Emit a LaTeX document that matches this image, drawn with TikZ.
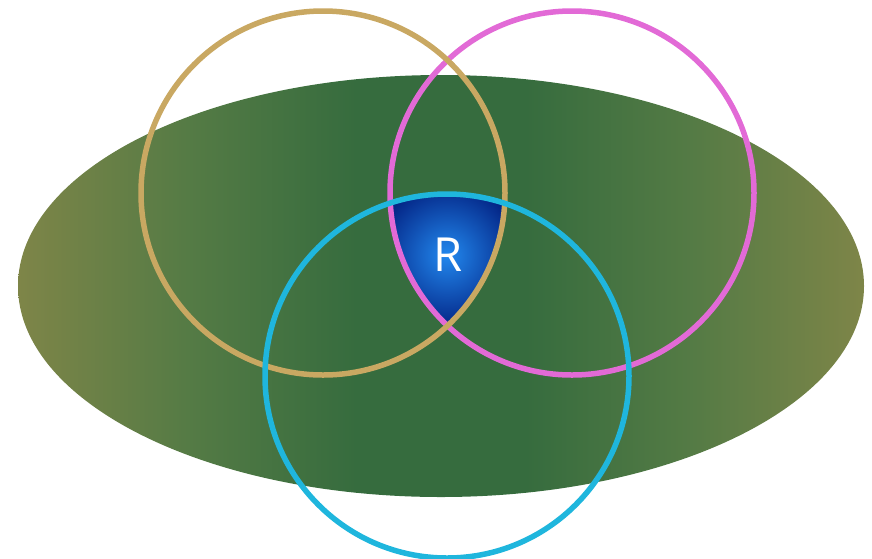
\documentclass[tikz,border=0pt]{standalone}
\usepackage{fontspec}
\setsansfont{Open Sans}
\definecolor{olivee}{HTML}{7E8548}
\definecolor{greenm}{HTML}{557B45}
\definecolor{greenc}{HTML}{366C3E}
\definecolor{tanc}{HTML}{C9A862}
\definecolor{pinkc}{HTML}{E26AD6}
\definecolor{cyanc}{HTML}{1FB6DD}
\definecolor{bluein}{HTML}{2288EE}
\definecolor{blueout}{HTML}{001A7A}
\pgfdeclarehorizontalshading{fieldshade}{100bp}{color(0bp)=(olivee); color(25bp)=(olivee); color(35bp)=(greenm); color(45bp)=(greenc); color(55bp)=(greenc); color(65bp)=(greenm); color(75bp)=(olivee); color(100bp)=(olivee)}
\tikzset{ring/.style={line width=5.5pt}}
\begin{document}
\begin{tikzpicture}[x=1pt,y=-1pt]
\useasboundingbox (0,0) rectangle (872,558);
\shade[shading=fieldshade] (441,286) ellipse [x radius=423,y radius=211];
\begin{scope}
\clip (323,193) circle [radius=182];
\clip (572,193) circle [radius=182];
\clip (447,376) circle [radius=182];
\shade[inner color=bluein,outer color=blueout] (447,255) circle [radius=80];
\end{scope}
\draw[ring,pinkc] (572,193) circle [radius=182];
\draw[ring,tanc] (323,193) circle [radius=182];
\draw[ring,cyanc] (447,376) circle [radius=182];
\node[text=white,font=\sffamily\fontsize{47}{50}\selectfont] (R) at (448,255) {R};
\end{tikzpicture}
\end{document}
